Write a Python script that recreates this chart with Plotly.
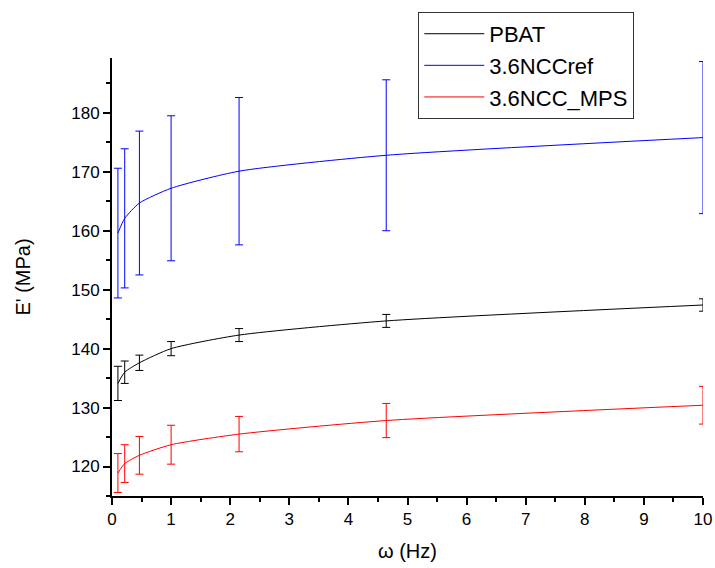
import plotly.graph_objects as go

freq = [0.1, 0.215, 0.464, 1.0, 2.15, 4.64, 10.0]

pbat = [134.1, 136.0, 137.6, 140.0, 142.3, 144.7, 147.4]
pbat_err = [2.9, 1.9, 1.3, 1.2, 1.1, 1.1, 1.05]

ncc_ref = [159.6, 162.1, 164.7, 167.2, 170.1, 172.8, 175.8]
ncc_ref_err = [11.0, 11.8, 12.2, 12.3, 12.5, 12.8, 12.9]

ncc_mps = [118.9, 120.5, 121.9, 123.7, 125.5, 127.8, 130.4]
ncc_mps_err = [3.3, 3.2, 3.2, 3.3, 3.0, 2.9, 3.2]

series = [
    ("PBAT", pbat, pbat_err, "#000000"),
    ("3.6NCCref", ncc_ref, ncc_ref_err, "#0000ff"),
    ("3.6NCC_MPS", ncc_mps, ncc_mps_err, "#ff0000"),
]

fig = go.Figure()
for name, vals, errs, col in series:
    fig.add_trace(go.Scatter(
        x=freq, y=vals, name=name, mode="lines",
        line=dict(color=col, width=1, shape="spline", smoothing=0.6),
        error_y=dict(type="data", array=errs, visible=True, color=col,
                     thickness=1, width=4),
    ))

font_family = "Liberation Sans, Arial, sans-serif"
fig.update_layout(
    width=715, height=568,
    margin=dict(l=112, r=12, t=58, b=72, autoexpand=False),
    paper_bgcolor="white", plot_bgcolor="white",
    font=dict(family=font_family, color="black", size=17),
    legend=dict(
        xref="container", yref="container",
        x=0.585, y=0.979, xanchor="left", yanchor="top",
        bordercolor="#333333", borderwidth=1, bgcolor="white",
        font=dict(size=22, family=font_family), tracegroupgap=0,
        itemwidth=60,
    ),
    xaxis=dict(
        range=[0, 10], tickmode="linear", tick0=0, dtick=1,
        showgrid=False, zeroline=False, showline=True, automargin=False,
        linecolor="black", linewidth=2, ticks="outside",
        ticklen=7, tickwidth=2, tickcolor="black",
        tickfont=dict(size=17),
        minor=dict(dtick=0.5, ticks="outside", ticklen=4, tickwidth=2, tickcolor="black"),
        title=dict(text="ω (Hz)", font=dict(size=20), standoff=16),
    ),
    yaxis=dict(
        range=[115, 189.3], tickmode="linear", tick0=120, dtick=10,
        showgrid=False, zeroline=False, showline=True, automargin=False,
        linecolor="black", linewidth=2, ticks="outside",
        ticklen=7, tickwidth=2, tickcolor="black",
        tickfont=dict(size=17),
        minor=dict(dtick=5, tick0=115, ticks="outside", ticklen=4, tickwidth=2, tickcolor="black"),
        title=dict(text="E' (MPa)", font=dict(size=20), standoff=35),
    ),
)

fig.write_html(
    "out.html",
    config={"displayModeBar": False},
    post_script="document.body.style.margin='0';document.body.style.overflow='hidden';",
)
